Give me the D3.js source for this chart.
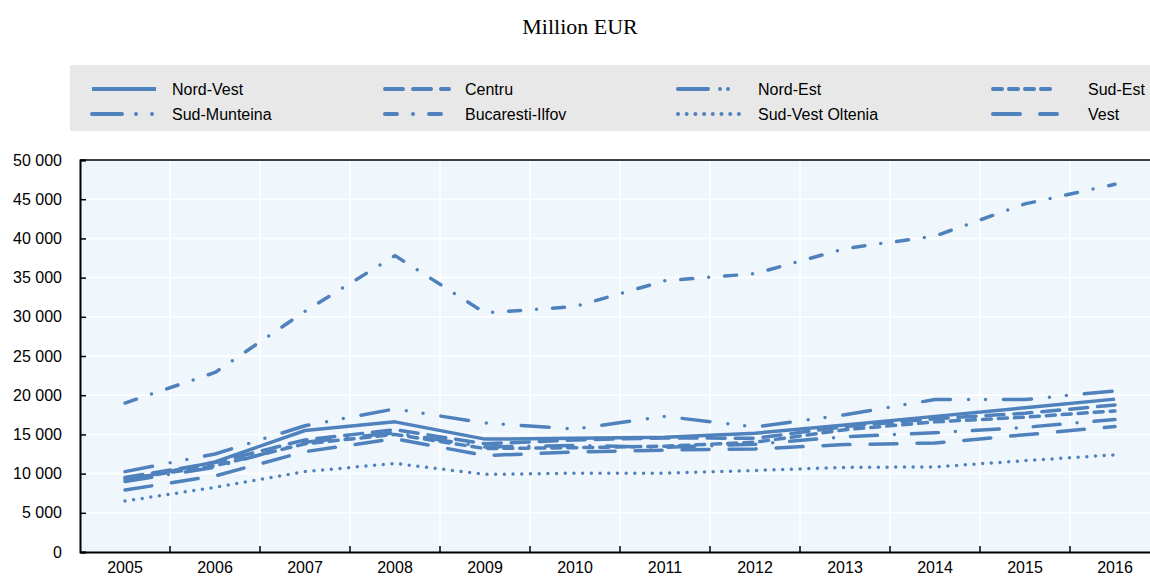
<!DOCTYPE html>
<html>
<head>
<meta charset="utf-8">
<script src="https://cdn.jsdelivr.net/npm/d3@7"></script>
<style>
  body { margin: 0; background: #fff; }
  text { font-family: "Liberation Sans", Arial, sans-serif; }
</style>
</head>
<body>
<script>
// Chart data (million EUR)
const years = [2005, 2006, 2007, 2008, 2009, 2010, 2011, 2012, 2013, 2014, 2015, 2016];

const nordVest = [9100, 11500, 15500, 16600, 14400, 14500, 14650, 15150, 16200, 17300, 18400, 19500];
const centru = [9500, 11400, 14300, 15600, 13800, 14300, 14550, 14500, 16000, 17000, 17700, 18750];
const nordEst = [9000, 10800, 14000, 15200, 13400, 13600, 13350, 13750, 14700, 15200, 15900, 16900];
const sudEst = [9300, 11000, 13800, 15000, 13200, 13300, 13500, 14000, 15600, 16600, 17200, 18000];
const sudMunteina = [10250, 12500, 16100, 18250, 16450, 15700, 17300, 15950, 17500, 19450, 19450, 20550];
const bucarestiIlfov = [19000, 22900, 30700, 37800, 30500, 31300, 34600, 35500, 38700, 40300, 44400, 46900];
const sudVestOltenia = [6500, 8250, 10250, 11300, 9900, 10050, 10050, 10400, 10800, 10850, 11650, 12400];
const vest = [7900, 9700, 12800, 14450, 12300, 12750, 13000, 13150, 13700, 13900, 14950, 16000];

const seriesNames = ['Nord-Vest', 'Centru', 'Nord-Est', 'Sud-Est', 'Sud-Munteina', 'Bucaresti-Ilfov', 'Sud-Vest Oltenia', 'Vest'];
const seriesValues = [nordVest, centru, nordEst, sudEst, sudMunteina, bucarestiIlfov, sudVestOltenia, vest];
const yTicks = [0, 5000, 10000, 15000, 20000, 25000, 30000, 35000, 40000, 45000, 50000];

// dash styles (round caps, so zero-length dashes become dots)
const dashes = ['none', '18,10', '27,17,0,17', '9,7', '28,18,0,17,0,18', '12,16,0,16', '0,8.7', '27,20'];
const legendDashes = ['none', '18,10', '30,12,0,8,0,30', '9,7', '30,14,0,16,0,30', '12,16,0,16', '0,8.7', '27,20'];

const width = 1150;
const height = 576;
const margin = { top: 160, right: -10, bottom: 24, left: 80 };
const blue = '#4f81bd';

const svg = d3.select('body')
    .append('svg')
    .attr('width', width)
    .attr('height', height);

// Title
svg.append('text')
    .attr('x', 580)
    .attr('y', 34)
    .attr('text-anchor', 'middle')
    .style('font-family', '"Liberation Serif", "Times New Roman", serif')
    .style('font-size', '22px')
    .attr('fill', '#000')
    .text('Million EUR');

// Legend box
svg.append('rect')
    .attr('x', 70)
    .attr('y', 65)
    .attr('width', 1080)
    .attr('height', 66)
    .attr('fill', '#e8e8e8');

const legendCols = [92, 385, 678, 993];
const legendRows = [89, 114];

const legend = svg.selectAll('.legend')
    .data(seriesNames)
    .enter()
    .append('g')
    .attr('class', 'legend')
    .attr('transform', (d, i) => `translate(${legendCols[i % 4]},${legendRows[Math.floor(i / 4)]})`);

legend.append('line')
    .attr('x1', 0)
    .attr('x2', 64)
    .attr('y1', 0)
    .attr('y2', 0)
    .attr('stroke', blue)
    .attr('stroke-width', 4)
    .attr('stroke-linecap', (d, i) => i === 0 ? 'butt' : 'round')
    .attr('stroke-dasharray', (d, i) => legendDashes[i]);

legend.append('text')
    .attr('x', (d, i) => i % 4 === 3 ? 95 : 80)
    .attr('y', 0)
    .attr('dy', '.35em')
    .style('font-size', '16px')
    .attr('fill', '#000')
    .text(d => d);

// Scales
const xScale = d3.scaleBand()
    .domain(years)
    .range([margin.left, width - margin.right]);

const yScale = d3.scaleLinear()
    .domain([0, 50000])
    .range([height - margin.bottom, margin.top]);

const xc = d => xScale(d) + xScale.bandwidth() / 2;

// Plot background
svg.append('rect')
    .attr('x', margin.left)
    .attr('y', margin.top)
    .attr('width', width - margin.right - margin.left)
    .attr('height', height - margin.bottom - margin.top)
    .attr('fill', '#f0f7fc');

// Grid lines
svg.append('g')
    .selectAll('line')
    .data(yTicks.slice(1, -1))
    .enter()
    .append('line')
    .attr('x1', margin.left)
    .attr('x2', width - margin.right)
    .attr('y1', d => yScale(d))
    .attr('y2', d => yScale(d))
    .attr('stroke', '#fff')
    .attr('stroke-width', 1.5);

svg.append('g')
    .selectAll('line')
    .data(years.slice(1))
    .enter()
    .append('line')
    .attr('x1', d => xScale(d))
    .attr('x2', d => xScale(d))
    .attr('y1', margin.top)
    .attr('y2', height - margin.bottom)
    .attr('stroke', '#fff')
    .attr('stroke-width', 1.5);

// Lines
const line = d3.line()
    .x((d, i) => xc(years[i]))
    .y(d => yScale(d));

svg.append('g')
    .selectAll('path')
    .data(seriesValues)
    .enter()
    .append('path')
    .attr('d', d => line(d))
    .attr('fill', 'none')
    .attr('stroke', blue)
    .attr('stroke-width', 3.5)
    .attr('stroke-linecap', (d, i) => i === 0 ? 'butt' : 'round')
    .attr('stroke-linejoin', 'round')
    .attr('stroke-dasharray', (d, i) => dashes[i]);

// Top border
svg.append('line')
    .attr('x1', margin.left)
    .attr('x2', width - margin.right)
    .attr('y1', margin.top)
    .attr('y2', margin.top)
    .attr('stroke', '#000')
    .attr('stroke-width', 1.5);

// Y axis
const yAxis = d3.axisLeft(yScale)
    .tickValues(yTicks)
    .tickSize(-6)
    .tickPadding(18)
    .tickFormat(d => d3.format(',')(d).replace(/,/g, ' '));

const yG = svg.append('g')
    .attr('class', 'y-axis')
    .attr('transform', `translate(${margin.left}, 0)`)
    .call(yAxis);

yG.select('.domain').attr('stroke', '#000').attr('stroke-width', 2);
yG.selectAll('.tick line').attr('stroke', '#000').attr('stroke-width', 1.5);
yG.selectAll('.tick text')
    .style('font-size', '16px')
    .style('font-family', '"Liberation Sans", Arial, sans-serif')
    .attr('fill', '#000');

// X axis (labels at band centres, ticks at band edges)
const xAxis = d3.axisBottom(xScale)
    .tickSize(0)
    .tickPadding(10);

const xG = svg.append('g')
    .attr('class', 'x-axis')
    .attr('transform', `translate(0, ${height - margin.bottom})`)
    .call(xAxis);

xG.select('.domain').attr('stroke', '#000').attr('stroke-width', 2);
xG.selectAll('.tick text')
    .style('font-size', '16px')
    .style('font-family', '"Liberation Sans", Arial, sans-serif')
    .attr('fill', '#000');

xG.selectAll('.edge')
    .data(years.slice(1))
    .enter()
    .append('line')
    .attr('class', 'edge')
    .attr('x1', d => xScale(d))
    .attr('x2', d => xScale(d))
    .attr('y1', 0)
    .attr('y2', -6)
    .attr('stroke', '#000')
    .attr('stroke-width', 1.5);
</script>
</body>
</html>
